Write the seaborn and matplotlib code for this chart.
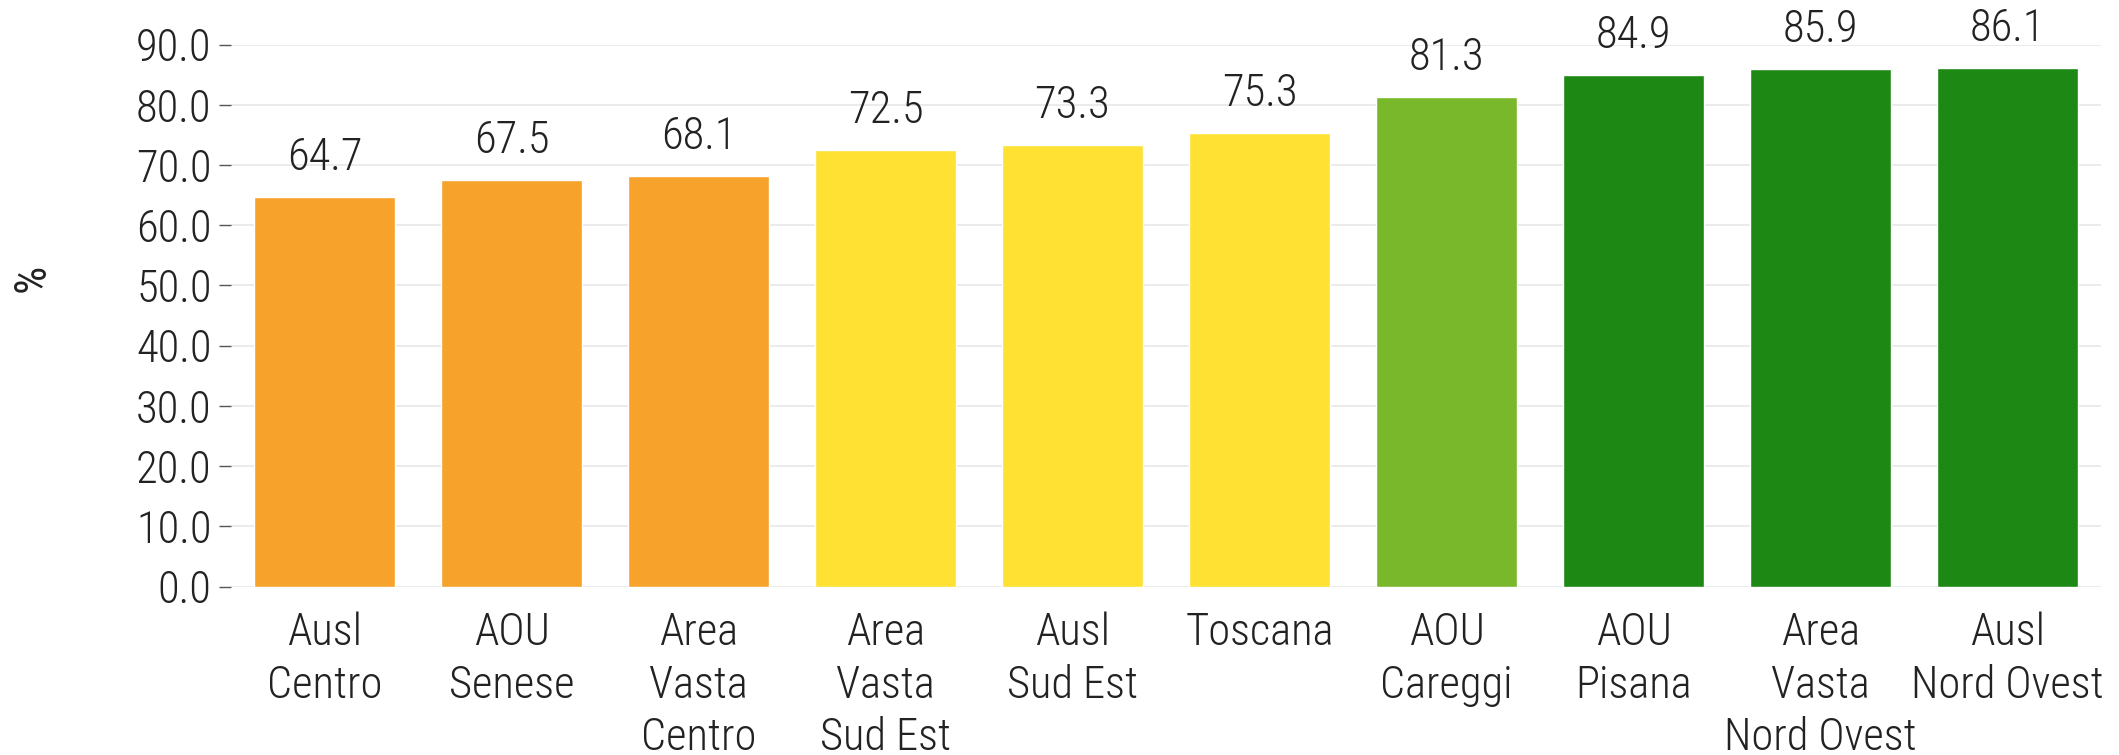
import numpy as np
import pandas as pd
import seaborn as sns
import matplotlib.pyplot as plt

sns.set_theme(style="white")
plt.rcParams['font.family'] = ['Roboto Condensed', 'DejaVu Sans']
plt.rcParams['font.stretch'] = 'condensed'
plt.rcParams['font.weight'] = 'light'

categories = ["Ausl\nCentro", "AOU\nSenese", "Area\nVasta\nCentro", "Area\nVasta\nSud Est",
              "Ausl\nSud Est", "Toscana", "AOU\nCareggi", "AOU\nPisana",
              "Area\nVasta\nNord Ovest", "Ausl\nNord Ovest"]
values = [64.7, 67.5, 68.1, 72.5, 73.3, 75.3, 81.3, 84.9, 85.9, 86.1]
bar_colors = ["#F7A22B", "#F7A22B", "#F7A22B", "#FEE133", "#FEE133", "#FEE133",
              "#78B82A", "#1D8914", "#1D8914", "#1D8914"]
yticks = [0, 10, 20, 30, 40, 50, 60, 70, 80, 90]

df = pd.DataFrame({"cat": categories, "val": values})

fig = plt.figure(figsize=(21.19, 7.55), dpi=100)
ax = fig.add_axes([0.109, 0.223, 0.8825, 0.718])

sns.barplot(data=df, x="cat", y="val", hue="cat", palette=bar_colors,
            legend=False, width=0.755, saturation=1, ax=ax)

for c in ax.containers:
    ax.bar_label(c, fmt="%.1f", padding=13, fontsize=32, color="#222222")

ax.set_xlim(-0.5, len(categories) - 0.5)
ax.set_ylim(0, 90)
ax.set_yticks(yticks)
ax.set_yticklabels(["%.1f" % t for t in yticks])
ax.yaxis.grid(True, color="#e8e8e8", linewidth=1.2)
ax.set_axisbelow(True)
for s in ax.spines.values():
    s.set_visible(False)

ax.tick_params(axis="y", left=True, length=9, width=1, color="#555555",
               labelsize=32, labelcolor="#222222", pad=5)
ax.tick_params(axis="x", bottom=False, labelsize=32, labelcolor="#222222", pad=12)
for lbl in ax.get_xticklabels():
    lbl.set_linespacing(1.3)
    lbl.set_verticalalignment("top")

ax.set_xlabel("")
ax.set_ylabel("%", fontsize=32, color="#222222")
ax.yaxis.set_label_coords(-0.095, 0.57)

fig.savefig("out.png", dpi=100)
